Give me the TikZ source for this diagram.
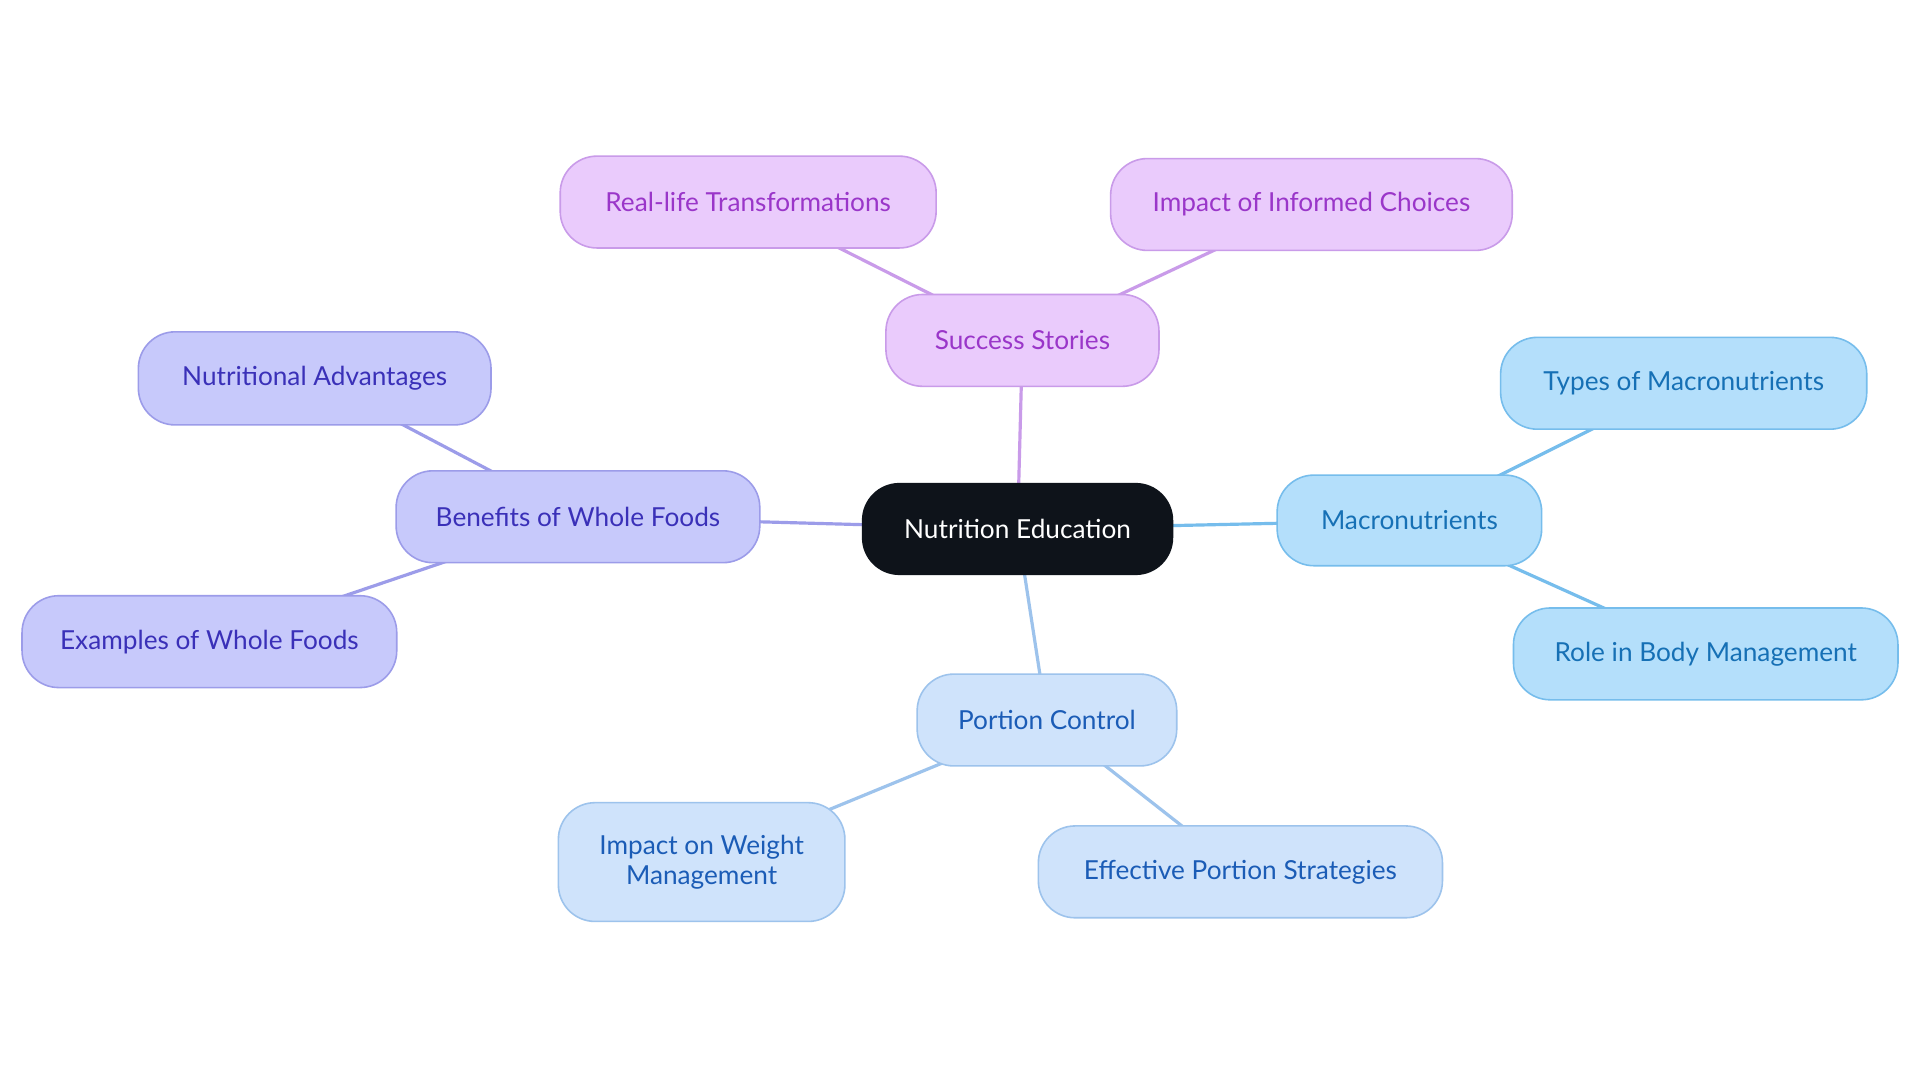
\documentclass[tikz,border=0pt]{standalone}
\usepackage{fontspec}
\setmainfont{Lato}
\usetikzlibrary{backgrounds}
\definecolor{cdark}{HTML}{0E131A}
\definecolor{pfill}{HTML}{EACBFC}
\definecolor{pdraw}{HTML}{C99BE9}
\definecolor{ptext}{HTML}{9A36C9}
\definecolor{vfill}{HTML}{C7C9FB}
\definecolor{vdraw}{HTML}{9C9CE9}
\definecolor{vtext}{HTML}{3A30B8}
\definecolor{mfill}{HTML}{B4DFFB}
\definecolor{mdraw}{HTML}{76BDEC}
\definecolor{mtext}{HTML}{1670B5}
\definecolor{cfill}{HTML}{CFE3FB}
\definecolor{cdraw}{HTML}{9DC3EC}
\definecolor{ctext}{HTML}{1B5CB6}
\tikzset{
  box/.style={rounded corners=30pt, line width=1.3pt, align=center, inner sep=0pt,
    font=\fontsize{21.4}{24}\selectfont},
  rootbox/.style={box, fill=cdark, draw=cdark, text=white},
  pbox/.style={box, fill=pfill, draw=pdraw, text=ptext},
  vbox/.style={box, fill=vfill, draw=vdraw, text=vtext},
  mbox/.style={box, fill=mfill, draw=mdraw, text=mtext},
  cbox/.style={box, fill=cfill, draw=cdraw, text=ctext},
  link/.style={line width=2.6pt},
}
\begin{document}
\begin{tikzpicture}[x=1pt,y=-1pt]
\useasboundingbox (0,0) rectangle (1568,884.5);
\node[rootbox, minimum width=253pt, minimum height=74pt] (root) at (831,432) {Nutrition Education};
\node[pbox, minimum width=223pt, minimum height=75pt] (succ) at (835,278) {Success Stories};
\node[pbox, minimum width=307pt, minimum height=75pt] (real) at (611,165) {Real-life Transformations};
\node[pbox, minimum width=328pt, minimum height=75pt] (inf) at (1071,167) {Impact of Informed Choices};
\node[vbox, minimum width=297pt, minimum height=75pt] (ben) at (472,422) {Benefits of Whole Foods};
\node[vbox, minimum width=288pt, minimum height=76pt] (adv) at (257,309) {Nutritional Advantages};
\node[vbox, minimum width=306pt, minimum height=75pt] (ex) at (171,524) {Examples of Whole Foods};
\node[mbox, minimum width=216pt, minimum height=74pt] (mac) at (1151,425) {Macronutrients};
\node[mbox, minimum width=299pt, minimum height=75pt] (typ) at (1375,313) {Types of Macronutrients};
\node[mbox, minimum width=314pt, minimum height=75pt] (role) at (1393,534) {Role in Body Management};
\node[cbox, minimum width=212pt, minimum height=75pt] (por) at (855,588) {Portion Control};
\node[cbox, minimum width=234pt, minimum height=97pt] (wt) at (573,704) {Impact on Weight\\Management};
\node[cbox, minimum width=330pt, minimum height=75pt] (eff) at (1013,712) {Effective Portion Strategies};
\begin{pgfonlayer}{background}
\fill[white] (0,0) rectangle (1568,884.5);
\draw[link, draw=pdraw] (root.center) -- (succ.center);
\draw[link, draw=pdraw] (succ.center) -- (real.center);
\draw[link, draw=pdraw] (succ.center) -- (inf.center);
\draw[link, draw=vdraw] (root.center) -- (ben.center);
\draw[link, draw=vdraw] (ben.center) -- (adv.center);
\draw[link, draw=vdraw] (ben.center) -- (ex.center);
\draw[link, draw=mdraw] (root.center) -- (mac.center);
\draw[link, draw=mdraw] (mac.center) -- (typ.center);
\draw[link, draw=mdraw] (mac.center) -- (role.center);
\draw[link, draw=cdraw] (root.center) -- (por.center);
\draw[link, draw=cdraw] (por.center) -- (wt.center);
\draw[link, draw=cdraw] (por.center) -- (eff.center);
\end{pgfonlayer}
\end{tikzpicture}
\end{document}
